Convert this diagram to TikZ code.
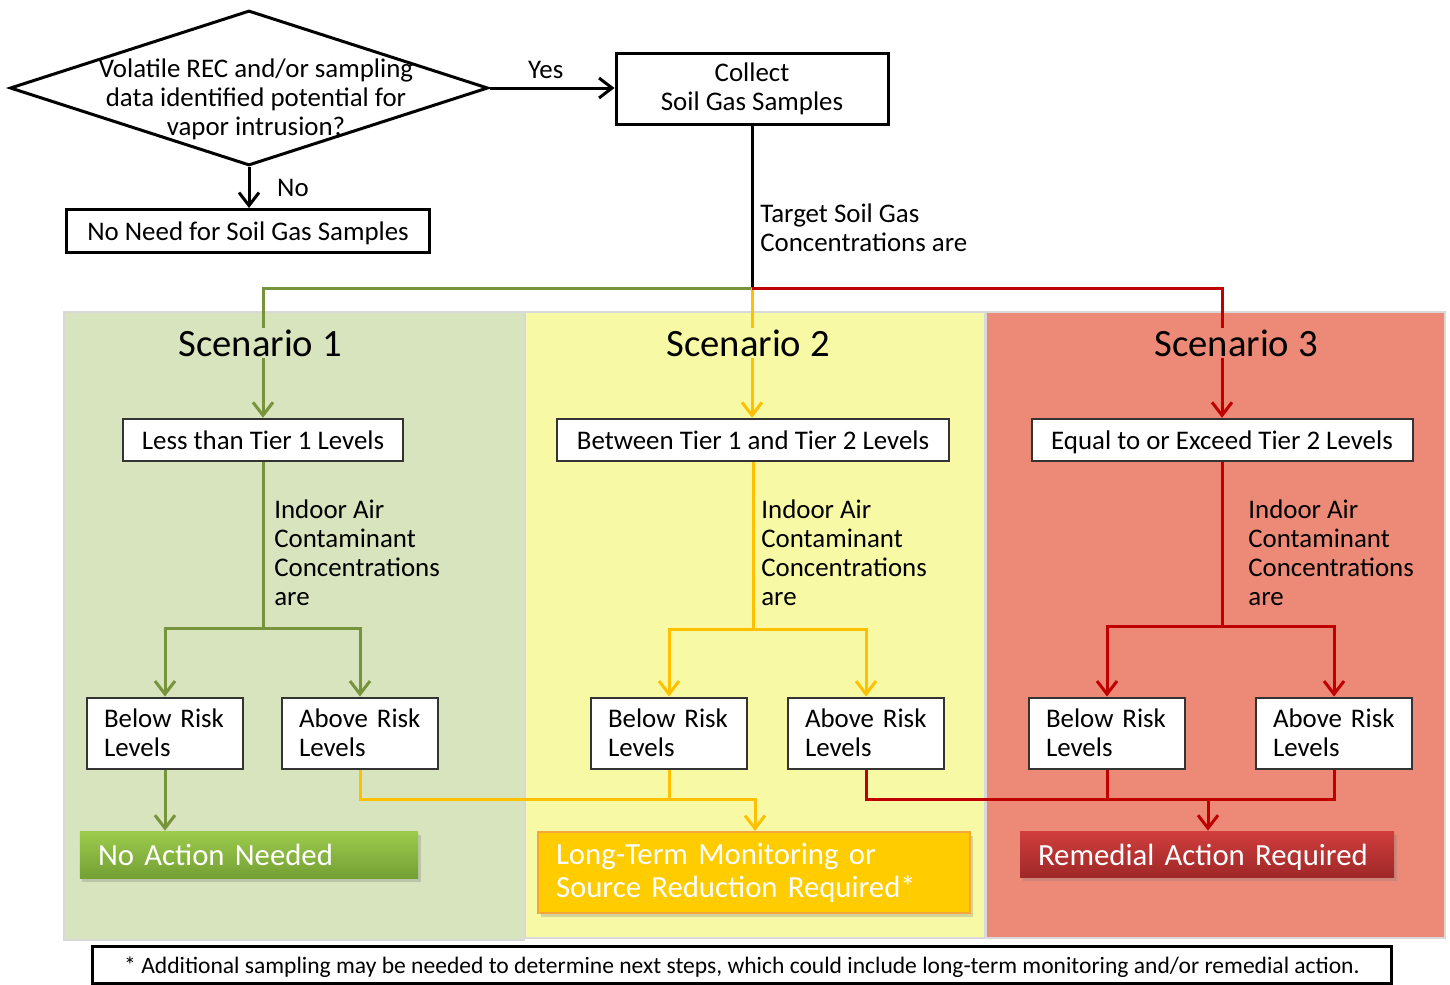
\documentclass[tikz,border=0pt]{standalone}
\usepackage{fontspec}
\setmainfont{Carlito}
\usepackage{tikz}
\usetikzlibrary{shapes.geometric}
\usetikzlibrary{arrows.meta}
\usetikzlibrary{positioning}
\usetikzlibrary{shadows}

\definecolor{panelgreen}{HTML}{D7E4BD}
\definecolor{panelyellow}{HTML}{F8F9A5}
\definecolor{panelred}{HTML}{EC8A77}
\definecolor{linegreen}{HTML}{77933C}
\definecolor{lineyellow}{HTML}{FFC000}
\definecolor{linered}{HTML}{C00000}
\definecolor{okgreentop}{HTML}{9DCB4C}
\definecolor{okgreenbot}{HTML}{74A035}
\definecolor{monyellow}{HTML}{FFCC00}
\definecolor{monorange}{HTML}{F5A83A}
\definecolor{remredtop}{HTML}{D03E3D}
\definecolor{remredbot}{HTML}{A02828}

\begin{document}
\begin{tikzpicture}[x=0.2mm, y=-0.2mm,
    font=\fontsize{15.3}{16.5}\selectfont,
    decision/.style={diamond, draw=black, line width=0.6mm, minimum width=95.6mm, minimum height=31mm, inner sep=0pt},
    box/.style={draw=black, line width=0.6mm, fill=white, align=center, inner sep=0pt},
    oneline/.style={text height=14pt, text depth=3pt},
    bigline/.style={text height=16.5pt, text depth=3.5pt},
    tierbox/.style={draw=black!80, line width=0.4mm, fill=white, inner sep=0pt, minimum height=8.5mm, oneline},
    riskbox/.style={draw=black!80, line width=0.4mm, fill=white, align=left, text width=24.4mm, inner xsep=3.4mm, inner ysep=0pt, minimum height=14.2mm},
    outcome/.style={text=white, align=left, inner xsep=3.6mm, inner ysep=0pt, font=\fontsize{17.5}{18.8}\selectfont, drop shadow={opacity=0.3, shadow xshift=0.5mm, shadow yshift=-0.8mm}},
    panel/.style={draw=black!15, line width=0.3mm},
    title/.style={font=\fontsize{22}{24}\selectfont, inner sep=1pt},
    lbl/.style={align=left, anchor=west, inner sep=0pt},
    bline/.style={draw=black, line width=0.6mm},
    gline/.style={draw=linegreen, line width=0.6mm},
    yline/.style={draw=lineyellow, line width=0.6mm},
    rline/.style={draw=linered, line width=0.6mm},
    blink/.style={bline, -{Straight Barb[length=2.6mm,width=4mm]}},
    glink/.style={gline, -{Straight Barb[length=2.6mm,width=4mm]}},
    ylink/.style={yline, -{Straight Barb[length=2.6mm,width=4mm]}},
    rlink/.style={rline, -{Straight Barb[length=2.6mm,width=4mm]}}]
    \useasboundingbox (0,0) rectangle (1450,984);

    % Panels
    \draw[panel, fill=panelgreen] (64,312) rectangle (524,940);
    \draw[panel, fill=panelyellow] (525,312) rectangle (985,938);
    \draw[panel, fill=panelred] (986,312) rectangle (1445,938);

    % Nodes
    \node[decision] (query) at (249,88) {};
    \node[align=center, inner sep=0pt] (querytext) at (256,99) {Volatile REC and/or sampling\\data identified potential for\\vapor intrusion?};
    \node[box, minimum width=54.4mm, minimum height=14.2mm] (collect) at (752,89) {Collect\\Soil Gas Samples};
    \node[box, oneline, minimum width=72.6mm, minimum height=8.6mm] (nosoil) at (248,231) {No Need for Soil Gas Samples};
    \node[lbl] (target) at (760,228) {Target Soil Gas\\Concentrations are};
    \coordinate (split) at (752,288);

    \node[tierbox, minimum width=56mm] (tier1) at (263,440) {Less than Tier 1 Levels};
    \node[tierbox, minimum width=78.4mm] (tier2) at (753,440) {Between Tier 1 and Tier 2 Levels};
    \node[tierbox, minimum width=76.2mm] (tier3) at (1222,440) {Equal to or Exceed Tier 2 Levels};

    \foreach \n/\x in {1/274, 2/761, 3/1248}
        \node[lbl] (indoor\n) at (\x,553) {Indoor Air\\Contaminant\\Concentrations\\are};
    \coordinate (fork1) at (263,628);
    \coordinate (fork2) at (753,629);
    \coordinate (fork3) at (1222,626);

    \node[riskbox] (below1) at (165,733) {Below Risk\\Levels};
    \node[riskbox] (above1) at (360,733) {Above Risk\\Levels};
    \node[riskbox] (below2) at (669,733) {Below Risk\\Levels};
    \node[riskbox] (above2) at (866,733) {Above Risk\\Levels};
    \node[riskbox] (below3) at (1107,733) {Below Risk\\Levels};
    \node[riskbox] (above3) at (1334,733) {Above Risk\\Levels};

    \node[outcome, bigline, top color=okgreentop, bottom color=okgreenbot, minimum height=9.4mm, text width=60.4mm] (noaction) at (249,854.5) {No Action Needed};
    \node[outcome, fill=monyellow, draw=monorange, line width=0.4mm, minimum height=16.2mm, text width=79.2mm] (monitor) at (754,872.5) {Long-Term Monitoring or\\Source Reduction Required*};
    \node[outcome, bigline, top color=remredtop, bottom color=remredbot, minimum height=9.2mm, text width=67.6mm] (remedial) at (1207,854) {Remedial Action Required};
    \coordinate (merge2) at (755,799);
    \coordinate (merge3) at (1208,799);

    \node[draw=black, line width=0.6mm, fill=white, minimum width=259.6mm, minimum height=7.4mm, inner sep=0pt, text height=12.5pt, text depth=2.3pt, font=\fontsize{13.4}{15}\selectfont] (footnote) at (742,964.5) {* Additional sampling may be needed to determine next steps, which could include long-term monitoring and/or remedial action.};

    % Edges
    \draw[blink] (query.east) -- (collect.west |- query.east) node[pos=0.45, yshift=3.6mm] (yes) {Yes};
    \draw[blink] (query.south) -- (nosoil.north -| query.south) node[midway, xshift=8.8mm] (no) {No};
    \draw[bline] (collect.south) -- (split);
    \draw[glink] (split) -| (tier1.north);
    \draw[ylink] (split) -- (split |- tier2.north);
    \draw[rlink] (split) -| (tier3.north);

    \draw[gline] (tier1.south) -- (fork1);
    \draw[glink] (fork1) -| (below1.north);
    \draw[glink] (fork1) -| (above1.north);
    \draw[yline] (tier2.south) -- (fork2);
    \draw[ylink] (fork2) -| (below2.north);
    \draw[ylink] (fork2) -| (above2.north);
    \draw[rline] (tier3.south) -- (fork3);
    \draw[rlink] (fork3) -| (below3.north);
    \draw[rlink] (fork3) -| (above3.north);

    \draw[glink] (below1.south) -- (below1.south |- noaction.north);
    \draw[ylink] (above1.south) |- (merge2) -- (merge2 |- monitor.north);
    \draw[yline] (below2.south) -- (below2.south |- merge2);
    \draw[rline] (above2.south) |- (above3.south |- merge3) -- (above3.south);
    \draw[rline] (below3.south) -- (below3.south |- merge3);
    \draw[rlink] (merge3) -- (merge3 |- remedial.north);

    % Titles over the lines
    \node[title, fill=panelgreen] (scenario1) at (260,343) {Scenario 1};
    \node[title, fill=panelyellow] (scenario2) at (748,343) {Scenario 2};
    \node[title, fill=panelred] (scenario3) at (1236,343) {Scenario 3};
\end{tikzpicture}
\end{document}
